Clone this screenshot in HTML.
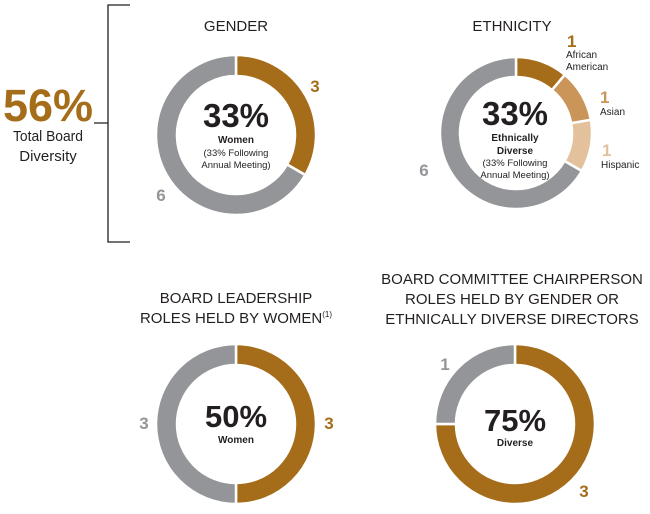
<!DOCTYPE html>
<html><head><meta charset="utf-8"><style>
body{margin:0;background:#fff;width:650px;height:509px;overflow:hidden;font-family:"Liberation Sans",Arial,sans-serif}
svg text{font-family:"Liberation Sans",Arial,sans-serif}
</style></head><body>
<svg id="c" width="650" height="509" viewBox="0 0 650 509">
<g>
<text x="48" y="121" text-anchor="middle" font-size="45" font-weight="bold" fill="#a56d1a">56%</text>
<text x="48" y="141" text-anchor="middle" font-size="15" fill="#231f20" textLength="70" lengthAdjust="spacingAndGlyphs">Total Board</text>
<text x="48" y="161" text-anchor="middle" font-size="15" fill="#231f20">Diversity</text>
<path d="M130 5H108V242H130M108 123H94" fill="none" stroke="#231f20" stroke-width="1.3"/>
</g>
<text x="236" y="31" text-anchor="middle" font-size="15" fill="#231f20">GENDER</text>
<text x="512" y="31" text-anchor="middle" font-size="15" fill="#231f20">ETHNICITY</text>
<text x="236" y="303" text-anchor="middle" font-size="15" fill="#231f20">BOARD LEADERSHIP</text>
<text x="236" y="323" text-anchor="middle" font-size="15" fill="#231f20">ROLES HELD BY WOMEN<tspan font-size="8" dy="-6">(1)</tspan></text>
<text x="512" y="284" text-anchor="middle" font-size="15" fill="#231f20">BOARD COMMITTEE CHAIRPERSON</text>
<text x="512" y="304" text-anchor="middle" font-size="15" fill="#231f20">ROLES HELD BY GENDER OR</text>
<text x="512" y="324" text-anchor="middle" font-size="15" fill="#231f20">ETHNICALLY DIVERSE DIRECTORS</text>
</svg>
<script>
const genderValues=[3,6];
const genderColors=["#a56d1a","#939598"];
const ethnicityValues=[1,1,1,6];
const ethnicityColors=["#a56d1a","#c99558","#e3c19d","#939598"];
const leadershipValues=[3,3];
const leadershipColors=["#a56d1a","#939598"];
const committeeValues=[3,1];
const committeeColors=["#a56d1a","#939598"];
const NS="http://www.w3.org/2000/svg";
const svg=document.getElementById('c');
function pt(cx,cy,r,a){return [cx+r*Math.sin(a),cy-r*Math.cos(a)];}
function donut(name,cx,cy,R,r,vals,cols,start){
  const tot=vals.reduce((a,b)=>a+b,0);let a=start;
  vals.forEach((v,i)=>{
    const b=a+v/tot*2*Math.PI;const lg=(b-a)>Math.PI?1:0;
    const p1=pt(cx,cy,R,a),p2=pt(cx,cy,R,b),p3=pt(cx,cy,r,b),p4=pt(cx,cy,r,a);
    const p=document.createElementNS(NS,'path');
    p.setAttribute('d',`M${p1}A${R},${R} 0 ${lg} 1 ${p2}L${p3}A${r},${r} 0 ${lg} 0 ${p4}Z`);
    p.setAttribute('fill',cols[i]);p.setAttribute('stroke','#fff');p.setAttribute('stroke-width','2.5');
    
    
    svg.appendChild(p);a=b;
  });
}
donut('gender',236,135,80,59,genderValues,genderColors,0);
donut('ethnicity',516,133,76,56,ethnicityValues,ethnicityColors,0);
donut('leadership',236,424,80,59,leadershipValues,leadershipColors,0);
donut('committee',515,424,80,59,committeeValues,committeeColors,0);
function t(x,y,s,size,w,fill,name,anchor){
  const e=document.createElementNS(NS,'text');e.setAttribute('x',x);e.setAttribute('y',y);
  e.setAttribute('font-size',size);if(w)e.setAttribute('font-weight','bold');e.setAttribute('fill',fill);
  e.setAttribute('text-anchor',anchor||'middle');e.textContent=s;
  
  
  svg.appendChild(e);
}
const dk="#231f20",br="#a56d1a",gr="#939598";
t(236,127,'33%',33,1,dk,'gender-center-value');
t(236,143,'Women',10,1,dk,'gender-center-label');
t(236,156,'(33% Following',9.5,0,dk,'gender-note-1');
t(236,168,'Annual Meeting)',9.5,0,dk,'gender-note-2');
t(315,92,genderValues[0],17,1,br,'gender-women-count');
t(161,201,genderValues[1],17,1,gr,'gender-men-count');
t(515,125,'33%',33,1,dk,'ethnicity-center-value');
t(515,141,'Ethnically',10,1,dk,'ethnicity-center-label-1');
t(515,154,'Diverse',10,1,dk,'ethnicity-center-label-2');
t(515,166,'(33% Following',9.5,0,dk,'ethnicity-note-1');
t(515,178,'Annual Meeting)',9.5,0,dk,'ethnicity-note-2');
t(424,176,ethnicityValues[3],17,1,gr,'ethnicity-other-count');
t(567,47,ethnicityValues[0],17,1,br,'african-american-count','start');
t(566,58,'African',10,0,dk,'african-american-label-1','start');
t(566,70,'American',10,0,dk,'african-american-label-2','start');
t(600,103,ethnicityValues[1],17,1,'#c99558','asian-count','start');
t(600,115,'Asian',10,0,dk,'asian-label','start');
t(602,156,ethnicityValues[2],17,1,'#e3c19d','hispanic-count','start');
t(601,168,'Hispanic',10,0,dk,'hispanic-label','start');
t(236,427,'50%',31,1,dk,'leadership-center-value');
t(236,443,'Women',10,1,dk,'leadership-center-label');
t(144,429,leadershipValues[1],17,1,gr,'leadership-other-count');
t(329,429,leadershipValues[0],17,1,br,'leadership-women-count');
t(515,431,'75%',31,1,dk,'committee-center-value');
t(515,446,'Diverse',10,1,dk,'committee-center-label');
t(445,370,committeeValues[1],17,1,gr,'committee-other-count');
t(584,497,committeeValues[0],17,1,br,'committee-diverse-count');
</script>
</body></html>
